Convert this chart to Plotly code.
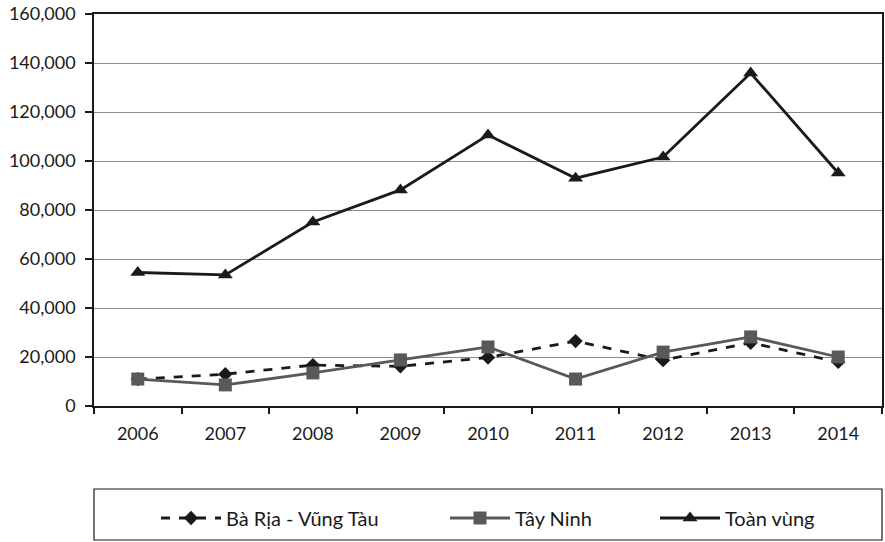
import plotly.graph_objects as go

years = ["2006", "2007", "2008", "2009", "2010", "2011", "2012", "2013", "2014"]
ba_ria = [11000, 13000, 16700, 16200, 19800, 26500, 18700, 25800, 18000]
tay_ninh = [11000, 8600, 13500, 18800, 24100, 11000, 22000, 28200, 20000]
toan_vung = [54500, 53500, 75100, 88200, 110600, 93000, 101600, 135900, 95100]
y_ticks = [0, 20000, 40000, 60000, 80000, 100000, 120000, 140000, 160000]

FONT = "Lato"
FS = 18
LFS = 20
W, H = 885, 542
ML, MR, MT, MB = 94, 3, 14, 136

fig = go.Figure()
fig.add_trace(go.Scatter(
    x=years, y=ba_ria, name="Bà Rịa - Vũng Tàu", mode="lines+markers",
    line=dict(color="#1a1a1a", width=2.8, dash="dash"),
    marker=dict(symbol="diamond", size=11, color="#1a1a1a"),
    legend="legend"))
fig.add_trace(go.Scatter(
    x=years, y=tay_ninh, name="Tây Ninh", mode="lines+markers",
    line=dict(color="#595959", width=2.8),
    marker=dict(symbol="square", size=13, color="#595959"),
    legend="legend2"))
fig.add_trace(go.Scatter(
    x=years, y=toan_vung, name="Toàn vùng", mode="lines+markers",
    line=dict(color="#1a1a1a", width=2.8),
    marker=dict(symbol="triangle-up", size=13, color="#1a1a1a"),
    legend="legend3"))

def cx(p):
    return p / W

def cy(p):
    return 1 - p / H

def py(p):
    return 1 - (p - MT) / (H - MT - MB)

leg_common = dict(font=dict(family=FONT, size=LFS, color="#1a1a1a"),
                  bgcolor="rgba(0,0,0,0)", borderwidth=0,
                  xref="container", yref="container",
                  xanchor="left", yanchor="middle", itemwidth=60,
                  orientation="h")

fig.update_layout(
    width=W, height=H,
    margin=dict(l=ML, r=MR, t=MT, b=MB, autoexpand=False),
    paper_bgcolor="white", plot_bgcolor="white",
    font=dict(family=FONT, size=FS, color="#1a1a1a"),
    showlegend=True,
    legend=dict(x=cx(156), y=cy(518), **leg_common),
    legend2=dict(x=cx(445), y=cy(518), **leg_common),
    legend3=dict(x=cx(655), y=cy(518), **leg_common),
    xaxis=dict(
        type="category", range=[-0.5, 8.5], automargin=False,
        tickson="boundaries", ticks="outside", ticklen=6, tickwidth=1.5,
        tickcolor="#1a1a1a", showline=True, linecolor="#1a1a1a", linewidth=1.5,
        mirror=True, showgrid=False, ticklabelstandoff=11,
        tickfont=dict(family=FONT, size=FS, color="#1a1a1a"),
    ),
    yaxis=dict(
        range=[0, 160000], tickvals=y_ticks, tickformat=",", automargin=False,
        ticks="outside", ticklen=7, tickwidth=1.5, tickcolor="#1a1a1a",
        showline=True, linecolor="#1a1a1a", linewidth=1.5, mirror=True,
        showgrid=True, gridcolor="#8c8c8c", gridwidth=1.2, zeroline=False,
        ticklabelstandoff=6,
        tickfont=dict(family=FONT, size=FS, color="#1a1a1a"),
    ),
    shapes=[dict(type="rect", xref="paper", yref="paper",
                 x0=0, x1=1, y0=py(540), y1=py(489),
                 line=dict(color="#1a1a1a", width=1.2))],
)

fig.write_html("out.html",
               config={"displayModeBar": False},
               post_script="document.body.style.margin='0';")
